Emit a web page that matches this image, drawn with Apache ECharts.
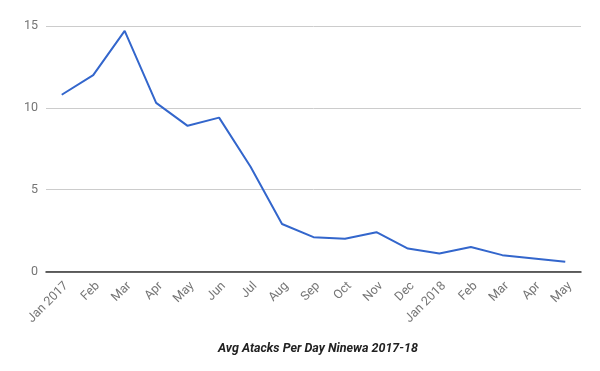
<!DOCTYPE html>
<html><head><meta charset="utf-8">
<script src="https://cdn.jsdelivr.net/npm/echarts@6/dist/echarts.min.js"></script>
<style>html,body{margin:0;padding:0;background:#fff}#c{width:600px;height:371px}</style>
</head><body><div id="c"></div>
<script>
const categories = ["Jan 2017","Feb","Mar","Apr","May","Jun","Jul","Aug","Sep","Oct","Nov","Dec","Jan 2018","Feb","Mar","Apr","May"];
const avgAttacks = [10.8,12.0,14.7,10.3,8.9,9.4,6.4,2.9,2.1,2.0,2.4,1.4,1.1,1.5,1.0,0.8,0.6];
const yTicks = [0,5,10,15];
const chart = echarts.init(document.getElementById('c'), null, {renderer:'canvas'});
chart.setOption({
  animation:false,
  textStyle:{fontFamily:'Roboto'},
  title:{text:'Avg Atacks Per Day Ninewa 2017-18', left:313, top:337, textAlign:'center',
    textStyle:{fontFamily:'Roboto', fontSize:12.5, fontWeight:'bold', fontStyle:'italic', color:'#222'}},
  grid:{left:46, right:19, top:26, bottom:99.5},
  xAxis:{type:'category', data:categories, boundaryGap:true,
    axisLine:{lineStyle:{color:'#333', width:1.5}},
    axisTick:{show:false},
    axisLabel:{rotate:45, color:'#757575', fontSize:12.5, margin:8, interval:0, verticalAlign:'top'}},
  yAxis:{type:'value', min:yTicks[0], max:yTicks[yTicks.length-1], interval:5,
    axisLine:{show:false}, axisTick:{show:false},
    axisLabel:{color:'#757575', fontSize:12.5, margin:8},
    splitLine:{lineStyle:{color:'#ccc'}}},
  series:[{type:'line', data:avgAttacks, symbol:'none', lineStyle:{color:'#3366cc', width:2}}]
});
</script></body></html>
